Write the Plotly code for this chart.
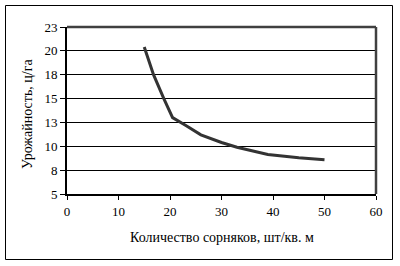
import plotly.graph_objects as go

weeds = [15, 16.8, 18.8, 20.5, 23, 26, 30, 33, 39, 45, 50]
yield_ = [20.4, 17.5, 15.0, 13.0, 12.2, 11.2, 10.4, 9.9, 9.15, 8.8, 8.6]

y_tickvals = [5, 7.5, 10, 12.5, 15, 17.5, 20, 22.5]
y_ticktext = ["5", "8", "10", "13", "15", "18", "20", "23"]
x_tickvals = [0, 10, 20, 30, 40, 50, 60]

x_title = "Количество сорняков, шт/кв. м"
y_title = "Урожайность, ц/га"

font = "Liberation Serif"

fig = go.Figure()
fig.add_trace(go.Scatter(x=weeds, y=yield_, mode="lines",
                         line=dict(color="#333333", width=3),
                         showlegend=False, hoverinfo="skip"))

L, R, T, B = 67, 24, 27, 72
W, H = 400, 266
pw, ph = W - L - R, H - T - B

def px(x):
    return (x - L) / pw

def py(y):
    return (H - B - y) / ph

fig.update_layout(
    width=W, height=H,
    margin=dict(l=L, r=R, t=T, b=B, pad=0),
    paper_bgcolor="white", plot_bgcolor="white",
    font=dict(family=font, size=13, color="black"),
    xaxis=dict(range=[0, 60], tickvals=x_tickvals, showgrid=False,
               zeroline=False, showline=True, linecolor="black", linewidth=2,
               ticks="outside", ticklen=4, tickwidth=1, tickcolor="black",
               tickfont=dict(family=font, size=13), fixedrange=True),
    yaxis=dict(range=[5, 22.5], tickvals=y_tickvals, ticktext=y_ticktext,
               showgrid=True, gridcolor="black", gridwidth=1,
               zeroline=False, showline=True, linecolor="black", linewidth=2,
               ticks="outside", ticklen=5, tickwidth=1, tickcolor="black",
               tickfont=dict(family=font, size=13), fixedrange=True),
    shapes=[
        dict(type="rect", xref="paper", yref="paper",
             x0=px(5.5), x1=px(392.5), y0=py(259.5), y1=py(5.5),
             line=dict(color="black", width=1), layer="below"),
        dict(type="line", xref="paper", yref="paper", x0=0, x1=1, y0=1, y1=1,
             line=dict(color="#404040", width=2.5)),
        dict(type="line", xref="paper", yref="paper", x0=1, x1=1, y0=0, y1=1,
             line=dict(color="#404040", width=2.5)),
    ],
    annotations=[
        dict(text=x_title, xref="paper", yref="paper", x=px(221.5), y=py(237),
             showarrow=False, xanchor="center", yanchor="middle",
             font=dict(family=font, size=14)),
        dict(text=y_title, xref="paper", yref="paper", x=px(27), y=py(114),
             showarrow=False, xanchor="center", yanchor="middle", textangle=-90,
             font=dict(family=font, size=14)),
    ],
)

fig.write_html("out.html", config={"displayModeBar": False})
